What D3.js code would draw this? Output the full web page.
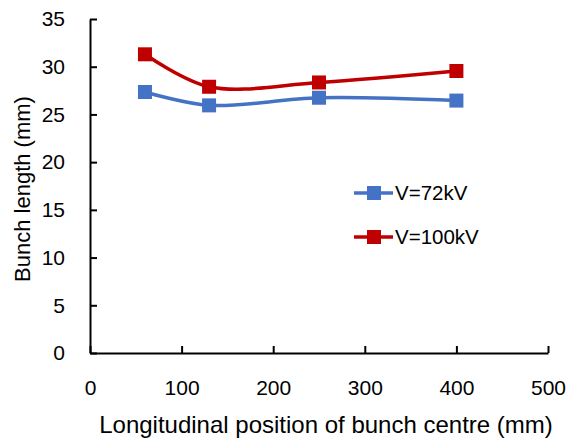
<!DOCTYPE html>
<html>
<head>
<meta charset="utf-8">
<script src="https://cdn.jsdelivr.net/npm/d3@7"></script>
<style>
  body { margin: 0; background: #fff; }
  svg text { font-family: "Liberation Sans", Arial, sans-serif; fill: #000; }
</style>
</head>
<body>
<svg id="chart"></svg>
<script>
// bunch length vs longitudinal position, two voltages
const width = 568;
const height = 440;

const positions = [60, 130, 250, 400];
const v72 = [27.35, 25.95, 26.75, 26.45];
const v100 = [31.3, 27.9, 28.35, 29.55];
const seriesNames = ['V=72kV', 'V=100kV'];
const seriesColors = ['#4472c4', '#c00000'];
const xTicks = [0, 100, 200, 300, 400, 500];
const yTicks = [0, 5, 10, 15, 20, 25, 30, 35];

const margin = { top: 19, right: 20, bottom: 87, left: 90 };

const svg = d3.select('#chart')
  .attr('width', width)
  .attr('height', height);

const x = d3.scaleLinear()
  .domain([0, 500])
  .range([margin.left, width - margin.right]);

const y = d3.scaleLinear()
  .domain([0, 35])
  .range([height - margin.bottom, margin.top]);

// axes, ticks pointing inward
const xAxis = svg.append('g')
  .attr('transform', `translate(0,${y(0)})`)
  .call(d3.axisBottom(x).tickValues(xTicks).tickSizeInner(-7).tickSizeOuter(0).tickPadding(27));

const yAxis = svg.append('g')
  .attr('transform', `translate(${x(0)},0)`)
  .call(d3.axisLeft(y).tickValues(yTicks).tickSizeInner(-7).tickSizeOuter(0).tickPadding(25));

[xAxis, yAxis].forEach(a => {
  a.select('.domain').attr('stroke', '#000').attr('stroke-width', 2);
  a.selectAll('.tick line').attr('stroke', '#000').attr('stroke-width', 2);
  a.selectAll('.tick text').style('font-size', '21px').attr('fill', '#000');
});
xAxis.selectAll('.tick text').attr('dy', '0.71em');

// axis titles
svg.append('text')
  .attr('x', 326)
  .attr('y', 433)
  .attr('text-anchor', 'middle')
  .style('font-size', '24px')
  .text('Longitudinal position of bunch centre (mm)');

svg.append('text')
  .attr('transform', 'translate(30,189) rotate(-90)')
  .attr('text-anchor', 'middle')
  .style('font-size', '22px')
  .text('Bunch length (mm)');

const line = d3.line()
  .x((d, i) => x(positions[i]))
  .y(d => y(d))
  .curve(d3.curveCatmullRom.alpha(0.5));

[v72, v100].forEach((vals, k) => {
  svg.append('path')
    .datum(vals)
    .attr('d', line)
    .attr('fill', 'none')
    .attr('stroke', seriesColors[k])
    .attr('stroke-width', 3.5);

  svg.selectAll(null)
    .data(vals)
    .join('rect')
      .attr('x', (d, i) => x(positions[i]) - 7)
      .attr('y', d => y(d) - 7)
      .attr('width', 14)
      .attr('height', 14)
      .attr('fill', seriesColors[k]);
});

// legend
const legend = svg.append('g');
seriesNames.forEach((name, k) => {
  const ly = 193 + k * 44;
  legend.append('line')
    .attr('x1', 354).attr('x2', 393)
    .attr('y1', ly).attr('y2', ly)
    .attr('stroke', seriesColors[k])
    .attr('stroke-width', 3.5);
  legend.append('rect')
    .attr('x', 367).attr('y', ly - 7)
    .attr('width', 14).attr('height', 14)
    .attr('fill', seriesColors[k]);
  legend.append('text')
    .attr('x', 395).attr('y', ly)
    .attr('dy', '0.35em')
    .style('font-size', '20.5px')
    .text(name);
});
</script>
</body>
</html>
